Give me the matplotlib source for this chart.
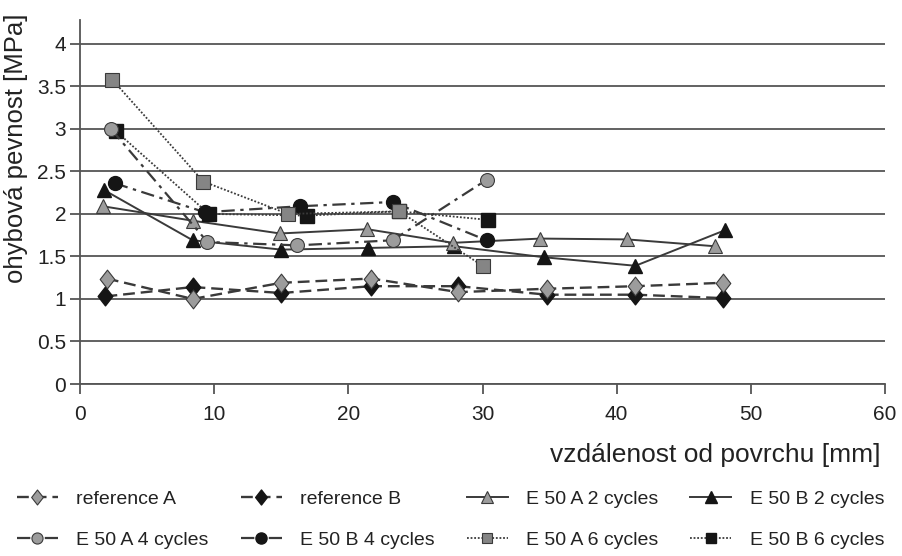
import matplotlib.pyplot as plt
import numpy as np
from matplotlib.path import Path

plt.rcParams['font.family'] = ['Liberation Sans', 'DejaVu Sans']

# depth from surface [mm] and bending strength [MPa]
refA_x = [2.0, 8.4, 15.0, 21.7, 28.2, 34.8, 41.4, 47.9]
refA_y = [1.24, 1.00, 1.19, 1.24, 1.08, 1.12, 1.15, 1.19]
refB_x = [1.9, 8.4, 15.0, 21.7, 28.2, 34.8, 41.4, 47.9]
refB_y = [1.03, 1.14, 1.07, 1.15, 1.15, 1.05, 1.05, 1.01]
a2_x = [1.7, 8.4, 14.9, 21.4, 27.8, 34.3, 40.8, 47.3]
a2_y = [2.09, 1.92, 1.77, 1.82, 1.66, 1.71, 1.70, 1.62]
b2_x = [1.8, 8.4, 15.0, 21.5, 27.9, 34.6, 41.4, 48.1]
b2_y = [2.28, 1.69, 1.58, 1.60, 1.62, 1.49, 1.39, 1.81]
a4_x = [2.3, 9.5, 16.2, 23.3, 30.3]
a4_y = [3.00, 1.67, 1.63, 1.69, 2.40]
b4_x = [2.6, 9.3, 16.4, 23.3, 30.3]
b4_y = [2.36, 2.02, 2.09, 2.14, 1.69]
a6_x = [2.4, 9.2, 15.5, 23.8, 30.0]
a6_y = [3.58, 2.38, 2.00, 2.03, 1.39]
b6_x = [2.7, 9.6, 16.9, 23.8, 30.4]
b6_y = [2.97, 2.00, 1.98, 2.03, 1.93]

labels = ['reference A', 'reference B', 'E 50 A 2 cycles', 'E 50 B 2 cycles',
          'E 50 A 4 cycles', 'E 50 B 4 cycles', 'E 50 A 6 cycles', 'E 50 B 6 cycles']

xticks = [0, 10, 20, 30, 40, 50, 60]
yticks = [0, 0.5, 1, 1.5, 2, 2.5, 3, 3.5, 4]
ytick_labels = ['0', '0.5', '1', '1.5', '2', '2.5', '3', '3.5', '4']

gray = '#9c9c9c'
gray_sq = '#858585'
black = '#151515'
line_c = '#3a3a3a'
edge = '#3a3a3a'

diamond = Path([(0, 1), (0.78, 0), (0, -1), (-0.78, 0), (0, 1)],
               [Path.MOVETO, Path.LINETO, Path.LINETO, Path.LINETO, Path.CLOSEPOLY])

dashed = (0, (5, 2.5))
dashdot = (0, (6, 2.5, 1.5, 2.5))
dotted = (0, (1, 1))

fig = plt.figure(figsize=(9.02, 5.56), dpi=100)
ax = fig.add_axes([80/902, 1 - 384/556, 805/902, 364/556])

series = {}
series['refB'] = ax.plot(refB_x, refB_y, ls=dashed, c=line_c, lw=1.7, marker=diamond, ms=13.5,
                         mfc=black, mec=black, zorder=3)[0]
series['refA'] = ax.plot(refA_x, refA_y, ls=dashed, c=line_c, lw=1.7, marker=diamond, ms=13.5,
                         mfc=gray, mec=edge, mew=0.8, zorder=4)[0]
series['b2'] = ax.plot(b2_x, b2_y, ls='-', c=line_c, lw=1.4, marker='^', ms=10,
                       mfc=black, mec=black, zorder=5)[0]
series['a2'] = ax.plot(a2_x, a2_y, ls='-', c=line_c, lw=1.4, marker='^', ms=10,
                       mfc=gray, mec=edge, mew=0.8, zorder=6)[0]
series['b4'] = ax.plot(b4_x, b4_y, ls=dashdot, c=line_c, lw=1.6, marker='o', ms=10,
                       mfc=black, mec=black, zorder=7)[0]
series['b6'] = ax.plot(b6_x, b6_y, ls=dotted, c=line_c, lw=1.3, marker='s', ms=9.5,
                       mfc=black, mec=black, zorder=8)[0]
series['a6'] = ax.plot(a6_x, a6_y, ls=dotted, c=line_c, lw=1.3, marker='s', ms=9.5,
                       mfc=gray_sq, mec=edge, mew=0.8, zorder=9)[0]
series['a4'] = ax.plot(a4_x, a4_y, ls=dashdot, c=line_c, lw=1.6, marker='o', ms=10,
                       mfc=gray, mec=edge, mew=0.8, zorder=10)[0]

ax.set_xlim(0, 60)
ax.set_ylim(0, 4.28)
ax.set_xticks(xticks)
ax.set_yticks(yticks)
ax.set_yticklabels(ytick_labels)
ax.grid(axis='y', color='#555555', lw=1.3)
ax.set_axisbelow(True)
ax.spines[['right', 'top']].set_visible(False)
for s in ['left', 'bottom']:
    ax.spines[s].set_color('#555555')
    ax.spines[s].set_linewidth(1.3)
ax.tick_params(axis='x', direction='out', length=7, width=1.3, color='#555555',
               labelsize=15, pad=8, labelcolor='#222222')
ax.tick_params(axis='y', direction='out', length=7, width=1.3, color='#555555',
               labelsize=15, pad=3, labelcolor='#222222')

fig.text(880/902, 1 - 455/556, 'vzdálenost od povrchu [mm]', ha='right', va='center',
         fontsize=19, color='#222222')
fig.text(16/902, 1 - 148/556, 'ohybová pevnost [MPa]', ha='center', va='center',
         rotation=90, fontsize=18.5, color='#222222')

# legend filled row by row
order = ['refA', 'a4', 'refB', 'b4', 'a2', 'a6', 'b2', 'b6']
lab_map = dict(zip(['refA', 'refB', 'a2', 'b2', 'a4', 'b4', 'a6', 'b6'], labels))
fig.legend([series[k] for k in order], [lab_map[k] for k in order], ncol=4,
           loc='upper left', bbox_to_anchor=(17/902, 1 - 490/556), frameon=False,
           fontsize=14, handlelength=2.1, handletextpad=0.95, columnspacing=1.65,
           labelspacing=1.2, borderpad=0, borderaxespad=0, markerscale=0.8,
           labelcolor='#222222')

fig.savefig('out.png', dpi=100, facecolor='white')
